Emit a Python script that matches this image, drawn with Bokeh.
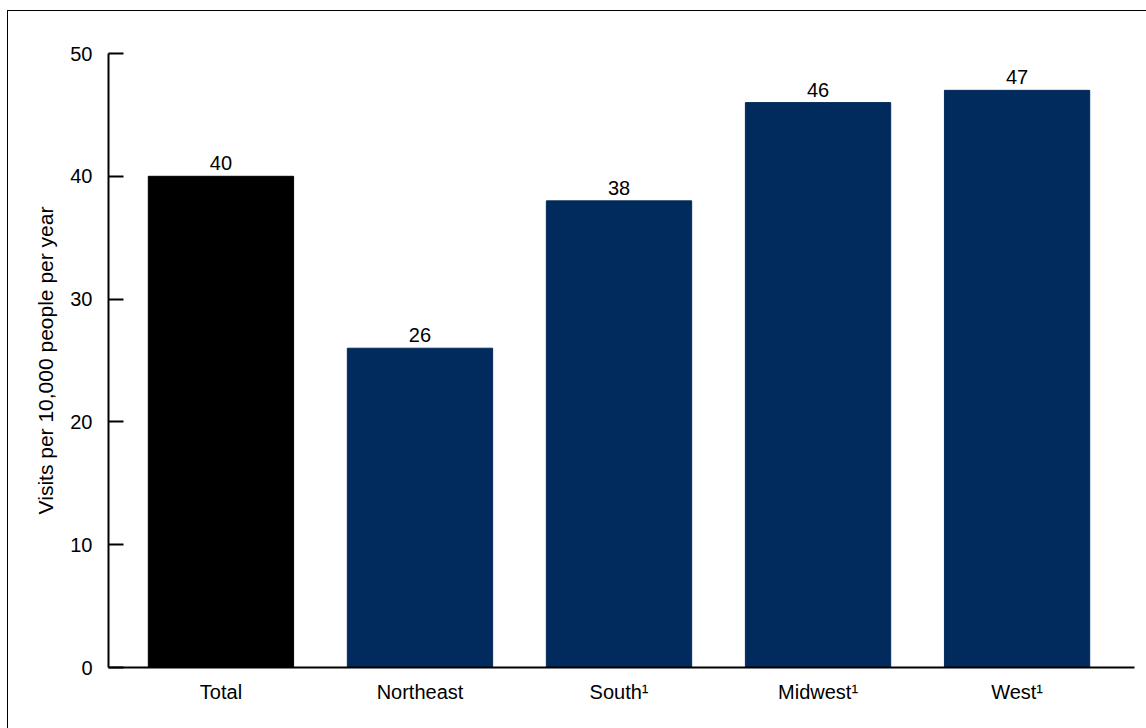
from bokeh.plotting import figure
from bokeh.models import ColumnDataSource, FixedTicker, Range1d
from bokeh.core.properties import value
from bokeh.embed import file_html
from bokeh.resources import INLINE

# Emergency department visits per 10,000 people per year, by region
regions = ["Total", "Northeast", "South\u00b9", "Midwest\u00b9", "West\u00b9"]
visits = [40, 26, 38, 46, 47]
bar_colors = ["#000000", "#002b5c", "#002b5c", "#002b5c", "#002b5c"]
y_ticks = [0, 10, 20, 30, 40, 50]

FONT = "Liberation Sans"

xs = list(range(len(regions)))
src = ColumnDataSource(dict(x=xs, top=visits, color=bar_colors,
                            label=[str(v) for v in visits]))

p = figure(width=1139, height=718, output_backend="svg", toolbar_location=None,
           x_range=Range1d(-0.565, 4.59), y_range=Range1d(0, 50),
           min_border_left=100, min_border_right=13,
           min_border_top=42, min_border_bottom=62)
p.outline_line_color = None
p.grid.grid_line_color = None
p.background_fill_color = "white"
p.border_fill_color = "white"
# outer frame: left and top edges of the chart box
p.styles = {"margin-left": "7px", "margin-top": "10px",
            "border-left": "1.5px solid #000000",
            "border-top": "1.5px solid #000000"}

p.vbar(x="x", top="top", bottom=0, width=0.73, color="color", source=src)
p.text(x="x", y="top", text="label", source=src, text_align="center",
       text_baseline="bottom", y_offset=-6, text_font_size="20px",
       text_font=value(FONT), text_color="#000000")

# y axis: ticks pointing into the plot
ya = p.yaxis[0]
ya.ticker = FixedTicker(ticks=y_ticks)
ya.major_tick_in = 15
ya.major_tick_out = 0
ya.minor_tick_line_color = None
ya.axis_line_width = 2
ya.major_tick_line_width = 2
ya.major_label_standoff = 16
ya.major_label_text_font = FONT
ya.major_label_text_font_size = "20px"
ya.major_label_text_color = "#000000"
ya.axis_label = "Visits per 10,000 people per year"
ya.axis_label_text_font = FONT
ya.axis_label_text_font_size = "21px"
ya.axis_label_text_font_style = "normal"
ya.axis_label_text_color = "#000000"
ya.axis_label_standoff = 10

# x axis: category names, no ticks
xa = p.xaxis[0]
xa.ticker = FixedTicker(ticks=xs)
xa.major_label_overrides = {i: r for i, r in enumerate(regions)}
xa.major_tick_in = 0
xa.major_tick_out = 0
xa.minor_tick_line_color = None
xa.axis_line_width = 2
xa.major_label_standoff = 13
xa.major_label_text_font = FONT
xa.major_label_text_font_size = "20px"
xa.major_label_text_color = "#000000"

open("out.html", "w").write(file_html(p, INLINE))
